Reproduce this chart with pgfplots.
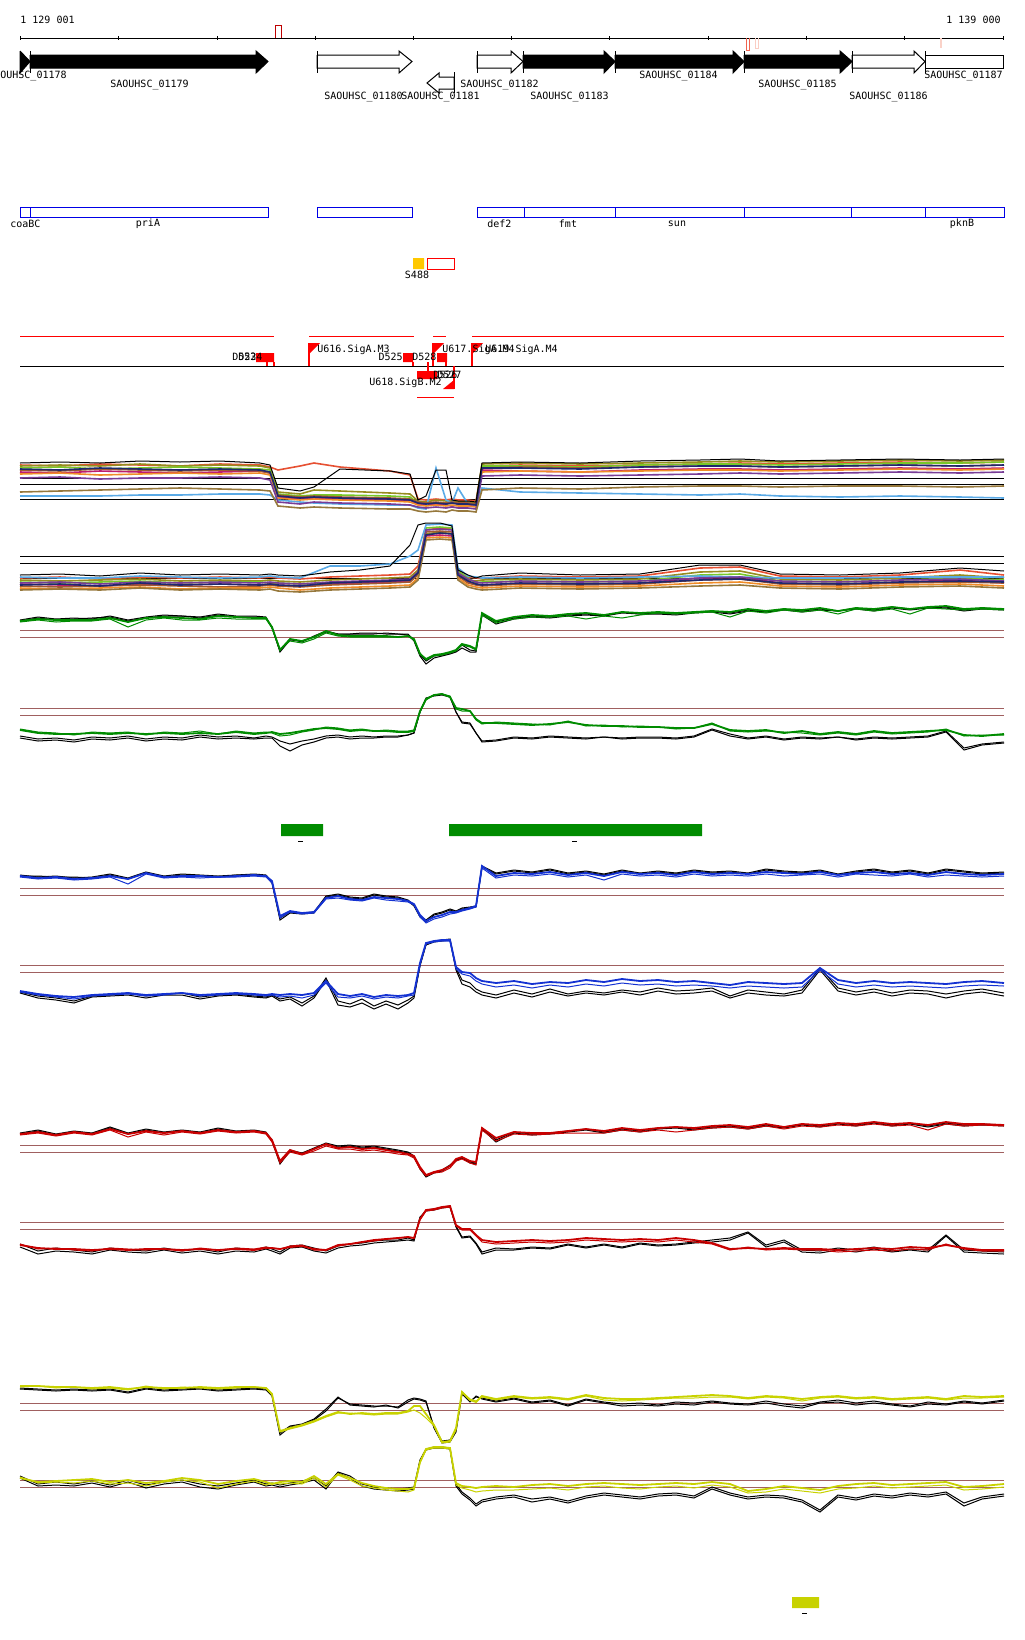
\documentclass[border=0pt]{standalone}
\usepackage{pgfplots}
\pgfplotsset{compat=1.18}
\usepackage{pgfplotstable}
\usepackage{fontspec}
\setmonofont{DejaVu Sans Mono}

\definecolor{brn}{RGB}{160,96,96}
\definecolor{gr}{RGB}{0,140,0}
\definecolor{bl}{RGB}{20,50,210}
\definecolor{rd}{RGB}{200,0,0}
\definecolor{yl}{RGB}{200,210,0}
\definecolor{bx}{RGB}{0,0,230}
\definecolor{gold}{RGB}{255,200,0}
\definecolor{m1}{RGB}{230,80,50}
\definecolor{m2}{RGB}{150,140,30}
\definecolor{m3}{RGB}{120,200,40}
\definecolor{m4}{RGB}{190,30,110}
\definecolor{m5}{RGB}{90,170,230}
\definecolor{m6}{RGB}{160,90,50}
\definecolor{m7}{RGB}{240,140,40}
\definecolor{m8}{RGB}{120,60,150}
\definecolor{m9}{RGB}{150,120,60}
\definecolor{m10}{RGB}{30,40,110}
\tikzset{lab/.style={font=\fontsize{5}{5}\selectfont\ttfamily, inner sep=0pt}}

% multi-sample tracks (pixel coords, y down)
\pgfplotstableread{
x k c1 c2 c3 c4 c5 c6 c7 c8 c9 c10
20 463 465 466 468 472 496 470 474 478 492 469
60 462 466 465 467 473 496 471 473 477 491 470
100 463 464 466 469 471 496 469 475 479 490 468
140 461 465 464 468 472 495 470 474 478 489 469
180 462 466 466 467 473 495 471 473 478 488 470
220 461 464 465 468 472 494 470 474 477 489 469
260 463 465 466 469 471 494 471 473 478 490 470
270 465 467 468 470 473 495 473 475 480 491 472
278 488 470 492 494 497 500 495 498 502 506 496
300 491 466 494 496 499 502 497 500 504 508 498
314 487 463 490 495 498 503 496 499 502 507 497
340 469 467 491 495 499 504 497 500 503 508 498
390 471 471 493 496 500 505 498 501 504 509 499
410 474 475 494 497 500 505 499 502 505 509 500
418 500 499 501 503 504 508 502 505 507 511 503
426 496 500 502 504 505 509 503 506 508 512 504
436 470 499 500 503 504 468 502 505 507 511 503
446 470 500 501 504 505 500 503 506 508 512 504
452 500 499 501 503 506 503 502 505 507 510 503
458 501 500 502 504 505 488 503 506 508 511 504
468 501 500 502 504 505 504 503 506 508 511 504
476 502 501 503 505 506 505 504 507 509 512 505
482 463 466 464 466 470 488 468 472 476 490 468
520 462 465 463 466 471 492 467 471 475 488 468
580 463 466 464 467 472 493 468 472 476 489 469
640 461 465 463 465 470 494 467 471 475 487 467
700 460 464 462 464 469 495 466 470 474 486 466
740 459 463 461 464 469 494 466 470 473 486 466
780 461 464 462 465 470 496 467 471 474 487 467
840 460 463 461 464 469 497 466 470 473 486 466
900 459 462 460 463 468 496 465 469 472 486 465
960 460 463 461 463 469 497 466 470 473 487 466
1004 459 462 460 462 468 498 465 469 472 486 465
}\mcA

\pgfplotstableread{
x k c1 c2 c3 c4 c5 c6 c7 c8 c9 c10
20 575 578 580 582 584 577 586 588 583 590 585
60 574 577 581 583 585 578 587 589 582 589 584
100 576 579 580 582 586 578 586 588 584 590 586
140 573 577 579 581 584 576 585 587 582 588 583
180 575 578 581 583 585 577 586 589 583 590 585
220 574 577 580 582 584 578 587 588 582 589 584
260 575 578 581 582 585 577 586 588 583 590 585
270 574 577 580 583 584 576 585 587 582 589 584
278 575 578 581 583 585 577 586 588 583 591 585
300 576 579 582 584 586 578 587 590 584 592 586
330 572 577 580 583 584 566 585 588 582 590 583
360 570 576 579 582 583 566 584 587 581 589 582
390 566 575 578 581 582 564 583 586 580 588 581
410 545 574 577 580 581 556 582 585 579 587 580
418 525 566 570 572 574 550 575 578 572 580 573
426 523 530 534 528 536 525 532 538 530 540 535
440 523 528 532 527 535 524 531 537 529 539 533
452 526 529 534 528 536 525 532 538 530 540 534
458 570 572 574 571 575 568 576 578 573 580 575
468 575 577 580 578 582 576 583 585 579 587 581
476 578 578 581 583 584 577 585 587 582 589 584
482 576 578 580 582 585 578 586 588 583 590 585
520 573 576 579 581 583 577 584 586 581 588 583
580 575 577 580 582 584 578 585 587 582 589 584
640 574 576 579 581 583 577 584 586 581 588 583
700 565 568 572 575 578 576 580 583 578 586 580
740 565 567 571 574 577 577 579 582 577 585 579
780 574 576 579 581 583 578 584 586 581 588 583
840 575 577 580 582 584 578 585 587 582 589 584
900 573 575 578 580 582 577 583 585 580 587 582
960 568 570 575 578 580 577 582 584 579 586 581
1004 571 575 578 580 583 577 583 586 581 588 582
}\mcB

\pgfplotstableread{
x k1 k2 c1 c2
20 620 621 621 622
38 617 618 619 620
56 619 620 620 622
74 618 619 620 621
92 619 618 620 621
110 616 617 618 619
128 620 621 622 627
146 617 618 618 620
164 615 616 617 618
182 616 616 618 620
200 617 618 619 620
218 614 615 616 618
236 616 617 617 619
254 616 617 618 619
266 617 618 618 619
272 628 627 627 628
280 651 652 650 649
290 639 640 639 641
302 642 641 641 643
314 636 637 637 639
326 631 632 631 633
338 634 634 635 636
350 634 634 636 637
362 634 633 636 637
374 634 633 636 637
386 633 634 636 637
398 634 634 637 637
408 634 635 636 636
414 640 641 639 640
420 655 656 654 653
426 661 664 659 660
434 656 658 655 656
442 655 656 654 655
450 653 654 652 653
456 651 652 650 651
462 645 648 644 645
470 650 652 646 647
476 651 652 649 650
482 614 615 613 615
496 622 624 621 623
514 618 619 617 619
532 616 617 615 617
550 617 618 616 617
568 615 616 614 616
586 614 615 613 619
604 616 616 615 616
622 612 613 612 618
640 614 614 613 615
658 613 614 612 613
676 614 615 613 614
694 612 613 612 613
712 611 612 611 612
730 613 614 612 617
748 610 611 609 611
766 612 612 611 613
784 609 610 609 610
802 611 612 610 612
820 609 610 608 610
838 611 611 611 614
856 608 609 608 609
874 610 611 609 611
892 607 608 607 609
910 609 610 609 614
928 608 608 607 608
946 607 608 606 609
964 610 611 609 610
982 608 609 608 609
1004 609 610 609 610
}\gA

\pgfplotstableread{
x k1 k2 c1 c2
20 736 738 730 729
38 739 741 733 732
56 738 740 734 733
74 740 742 734 735
92 737 739 733 732
110 738 740 734 733
128 736 738 733 732
146 739 741 734 735
164 737 739 733 732
182 738 740 734 733
200 735 737 733 731
218 737 739 734 734
236 736 738 732 731
254 738 739 734 733
266 736 738 733 732
272 737 738 732 733
280 741 746 734 736
290 744 751 733 735
302 741 745 731 732
314 739 742 729 730
326 736 738 728 727
338 735 737 729 728
350 737 739 731 730
362 736 738 730 729
374 737 738 731 731
386 736 737 731 730
398 736 737 732 731
408 735 735 732 731
414 733 733 731 730
420 712 712 711 712
426 699 698 699 700
434 695 696 695 695
442 694 695 694 694
450 697 697 697 696
456 712 712 708 709
462 722 723 709 711
470 723 724 711 711
476 733 733 719 720
482 741 742 723 724
496 740 741 723 722
514 737 738 724 723
532 738 739 725 724
550 736 737 724 725
568 737 738 722 721
586 738 739 725 726
604 737 737 726 725
622 738 739 726 727
640 737 738 727 726
658 737 738 727 727
676 738 739 728 729
694 736 737 728 728
712 729 730 724 723
730 734 736 730 731
748 738 739 731 732
766 736 737 730 731
784 739 740 733 732
802 737 738 731 733
820 738 739 734 735
838 737 737 732 733
856 739 740 734 735
874 737 738 731 732
892 738 739 733 734
910 737 738 732 733
928 736 737 731 732
946 731 732 730 729
964 748 750 735 736
982 744 745 736 735
1004 742 743 734 735
}\gB

\pgfplotstableread{
x k1 k2 c1 c2
20 875 876 876 877
38 877 876 878 879
56 876 877 877 878
74 878 877 879 880
92 877 878 878 879
110 874 875 876 877
128 878 879 879 884
146 872 873 873 874
164 876 877 877 878
182 874 875 876 877
200 875 876 876 878
218 876 877 877 877
236 875 875 876 877
254 874 875 875 876
266 875 876 876 877
272 882 883 881 883
280 918 920 916 918
290 912 913 911 912
302 913 914 913 914
314 912 913 912 913
326 896 897 898 899
338 894 895 896 898
350 897 898 899 900
362 898 899 900 901
374 894 895 897 898
386 896 897 898 900
398 897 898 899 901
408 900 901 901 902
414 905 906 904 905
420 916 917 915 917
426 920 922 921 923
434 914 915 917 919
442 912 913 915 917
450 909 910 912 914
456 911 912 912 913
462 908 909 910 911
470 907 908 908 909
476 906 907 906 907
482 866 867 866 868
496 873 874 876 878
514 870 871 873 875
532 872 873 874 876
550 869 870 872 874
568 873 874 875 877
586 871 872 873 875
604 874 875 876 880
622 870 871 872 874
640 873 874 874 876
658 871 872 873 875
676 873 874 875 877
694 870 871 872 874
712 872 873 874 876
730 871 872 873 875
748 873 874 874 876
766 869 870 872 874
784 871 872 873 876
802 872 873 874 875
820 870 871 872 874
838 874 875 875 877
856 871 872 873 874
874 869 870 872 875
892 872 873 874 876
910 870 871 873 874
928 873 874 875 877
946 869 870 872 875
964 871 872 874 876
982 873 874 875 877
1004 872 873 874 876
}\bA

\pgfplotstableread{
x k1 k2 c1 c2
20 992 993 991 992
38 996 998 994 995
56 998 1000 996 997
74 1001 1003 997 999
92 996 997 995 996
110 995 996 994 995
128 993 995 993 994
146 996 998 995 996
164 994 995 994 995
182 993 995 993 993
200 997 999 995 996
218 995 996 994 995
236 994 995 993 994
254 996 997 994 995
266 997 998 995 996
272 995 996 994 995
280 999 1001 995 997
290 997 999 994 996
302 1003 1006 995 998
314 996 998 993 995
326 978 980 981 983
338 1001 1005 994 997
350 1004 1007 996 998
362 999 1003 994 996
374 1006 1009 997 999
386 1001 1004 995 997
398 1005 1009 996 998
408 1000 1003 995 996
414 996 998 993 995
420 965 966 963 965
426 944 945 943 944
434 941 942 941 942
442 940 941 940 941
450 939 940 940 941
456 968 970 967 969
462 980 984 972 974
470 983 987 973 976
476 989 992 978 981
482 992 995 981 984
496 995 998 983 987
514 990 993 981 985
532 994 997 984 988
550 989 992 982 985
568 994 996 983 987
586 991 993 980 984
604 993 995 982 986
622 990 992 979 983
640 992 995 981 985
658 988 991 980 984
676 991 994 982 986
694 990 993 981 985
712 988 991 983 986
730 996 998 985 988
748 990 993 982 986
766 992 995 983 987
784 994 996 984 988
802 990 993 983 987
820 968 970 968 970
838 988 991 980 984
856 992 995 983 987
874 989 992 981 985
892 993 996 983 987
910 990 993 982 986
928 991 994 983 987
946 994 998 984 988
964 991 994 982 986
982 989 992 981 985
1004 993 996 983 986
}\bB

\pgfplotstableread{
x k1 k2 c1 c2
20 1133 1134 1134 1135
38 1130 1131 1132 1133
56 1134 1135 1135 1136
74 1131 1132 1132 1133
92 1133 1134 1134 1135
110 1127 1128 1129 1130
128 1133 1134 1134 1137
146 1129 1130 1131 1132
164 1132 1133 1133 1135
182 1130 1131 1131 1132
200 1132 1133 1133 1134
218 1128 1129 1130 1131
236 1131 1132 1132 1133
254 1130 1131 1131 1132
266 1132 1133 1133 1134
272 1140 1141 1140 1142
280 1162 1164 1161 1163
290 1150 1151 1150 1152
302 1153 1154 1154 1155
314 1148 1149 1149 1151
326 1143 1144 1144 1146
338 1146 1147 1148 1149
350 1145 1146 1147 1149
362 1147 1148 1149 1151
374 1146 1147 1148 1150
386 1148 1149 1150 1152
398 1150 1151 1152 1154
408 1152 1153 1154 1155
414 1156 1157 1156 1158
420 1168 1169 1167 1169
426 1176 1177 1175 1176
434 1172 1173 1172 1173
442 1170 1171 1170 1172
450 1165 1166 1166 1168
456 1160 1161 1159 1161
462 1157 1158 1157 1159
470 1162 1163 1161 1163
476 1163 1164 1162 1165
482 1128 1129 1128 1130
496 1140 1142 1138 1141
514 1132 1133 1132 1134
532 1134 1135 1133 1135
550 1133 1134 1133 1134
568 1131 1132 1131 1133
586 1129 1130 1129 1133
604 1132 1133 1131 1133
622 1129 1130 1128 1130
640 1131 1132 1130 1132
658 1128 1129 1128 1130
676 1127 1128 1127 1132
694 1129 1130 1128 1130
712 1127 1128 1126 1128
730 1126 1127 1125 1127
748 1128 1129 1127 1129
766 1125 1126 1124 1126
784 1127 1128 1127 1129
802 1124 1125 1124 1126
820 1126 1127 1125 1127
838 1123 1124 1123 1125
856 1125 1126 1124 1126
874 1122 1123 1122 1124
892 1125 1126 1124 1126
910 1123 1124 1123 1125
928 1126 1127 1125 1130
946 1123 1124 1122 1124
964 1125 1126 1124 1126
982 1124 1125 1124 1125
1004 1125 1126 1125 1126
}\rA

\pgfplotstableread{
x k1 k2 c1 c2
20 1244 1247 1245 1244
38 1251 1254 1248 1249
56 1248 1251 1249 1248
74 1250 1252 1249 1250
92 1252 1254 1250 1251
110 1248 1250 1249 1248
128 1250 1252 1250 1249
146 1251 1253 1249 1250
164 1248 1250 1249 1249
182 1251 1253 1250 1251
200 1249 1251 1249 1248
218 1252 1254 1250 1250
236 1248 1251 1249 1248
254 1250 1252 1250 1249
266 1247 1249 1248 1247
272 1249 1251 1248 1248
280 1252 1254 1249 1249
290 1246 1248 1247 1246
302 1245 1247 1246 1245
314 1248 1251 1249 1250
326 1251 1253 1250 1250
338 1246 1248 1245 1246
350 1244 1246 1244 1244
362 1243 1245 1242 1242
374 1241 1243 1240 1241
386 1240 1242 1239 1239
398 1240 1241 1238 1238
408 1238 1240 1237 1237
414 1240 1241 1238 1238
420 1218 1217 1219 1220
426 1210 1211 1210 1211
434 1209 1210 1209 1210
442 1207 1208 1207 1208
450 1206 1207 1206 1207
456 1226 1227 1225 1226
462 1237 1238 1229 1230
470 1236 1237 1229 1230
476 1243 1244 1235 1236
482 1252 1254 1240 1242
496 1248 1250 1242 1244
514 1249 1250 1241 1243
532 1247 1248 1240 1242
550 1248 1249 1241 1243
568 1244 1245 1240 1242
586 1247 1248 1238 1240
604 1244 1245 1239 1241
622 1247 1248 1240 1242
640 1243 1244 1239 1241
658 1245 1246 1240 1242
676 1244 1245 1238 1240
694 1242 1243 1240 1242
712 1240 1242 1243 1244
730 1238 1240 1249 1250
748 1232 1233 1248 1247
766 1245 1247 1249 1250
784 1240 1242 1248 1249
802 1250 1252 1249 1250
820 1251 1253 1249 1250
838 1248 1250 1250 1252
856 1250 1252 1249 1251
874 1247 1249 1248 1250
892 1251 1252 1249 1251
910 1249 1250 1247 1249
928 1250 1252 1248 1250
946 1235 1236 1245 1244
964 1250 1252 1248 1249
982 1251 1253 1250 1251
1004 1252 1254 1250 1251
}\rB

\pgfplotstableread{
x k1 k2 c1 c2
20 1388 1389 1386 1387
38 1389 1390 1386 1386
56 1390 1391 1387 1388
74 1389 1390 1387 1387
92 1390 1391 1388 1389
110 1389 1390 1387 1388
128 1392 1393 1389 1390
146 1388 1389 1387 1386
164 1390 1391 1388 1389
182 1389 1390 1388 1387
200 1388 1389 1387 1388
218 1390 1391 1388 1389
236 1389 1390 1387 1388
254 1388 1389 1387 1387
266 1389 1390 1388 1388
272 1395 1396 1394 1395
280 1433 1435 1431 1432
290 1426 1427 1428 1429
302 1424 1425 1425 1426
314 1419 1420 1421 1422
326 1409 1411 1416 1417
338 1397 1398 1412 1413
350 1405 1404 1414 1413
362 1406 1405 1413 1414
374 1407 1406 1414 1415
386 1405 1406 1413 1414
398 1408 1407 1413 1414
408 1402 1400 1411 1412
414 1399 1398 1406 1410
420 1400 1399 1406 1413
426 1402 1401 1414 1418
434 1427 1428 1425 1426
442 1441 1443 1442 1443
450 1440 1442 1441 1442
456 1430 1432 1428 1430
462 1393 1394 1392 1392
470 1401 1402 1400 1399
476 1397 1396 1402 1401
482 1398 1399 1396 1397
496 1401 1402 1399 1400
514 1398 1399 1396 1397
532 1402 1403 1398 1399
550 1400 1401 1397 1398
568 1405 1406 1399 1400
586 1399 1400 1395 1396
604 1402 1403 1398 1400
622 1404 1406 1399 1401
640 1403 1405 1399 1400
658 1405 1406 1398 1399
676 1402 1404 1397 1398
694 1403 1405 1396 1398
712 1401 1402 1395 1397
730 1403 1404 1396 1397
748 1404 1405 1398 1399
766 1401 1403 1396 1397
784 1404 1406 1397 1398
802 1406 1408 1399 1401
820 1402 1403 1397 1398
838 1400 1402 1396 1397
856 1403 1405 1398 1399
874 1401 1403 1397 1398
892 1404 1405 1399 1400
910 1406 1407 1398 1399
928 1402 1404 1397 1398
946 1404 1405 1399 1400
964 1401 1402 1396 1398
982 1403 1404 1397 1398
1004 1400 1401 1396 1397
}\yA

\pgfplotstableread{
x k1 k2 c1 c2
20 1476 1478 1478 1477
38 1484 1486 1482 1483
56 1482 1485 1481 1482
74 1484 1486 1480 1483
92 1481 1483 1479 1481
110 1485 1487 1482 1484
128 1480 1482 1480 1483
146 1485 1488 1483 1486
164 1482 1484 1481 1482
182 1480 1482 1478 1480
200 1484 1487 1480 1482
218 1486 1489 1484 1488
236 1483 1485 1481 1484
254 1480 1482 1479 1481
266 1484 1486 1482 1485
272 1483 1485 1484 1483
280 1485 1487 1482 1484
290 1483 1485 1481 1483
302 1481 1483 1482 1484
314 1478 1480 1476 1478
326 1486 1489 1484 1487
338 1472 1473 1474 1475
350 1476 1478 1478 1480
362 1484 1486 1483 1486
374 1487 1489 1486 1488
386 1488 1490 1488 1490
398 1489 1491 1489 1491
408 1488 1490 1489 1492
414 1487 1489 1488 1490
420 1460 1461 1462 1463
426 1449 1450 1449 1450
434 1447 1448 1447 1448
442 1447 1448 1447 1448
450 1448 1449 1448 1449
456 1484 1486 1483 1485
462 1492 1494 1486 1488
470 1498 1500 1487 1490
476 1504 1506 1488 1492
482 1500 1502 1487 1491
496 1497 1499 1486 1490
514 1495 1497 1487 1490
532 1499 1502 1485 1489
550 1497 1499 1484 1488
568 1501 1503 1486 1490
586 1496 1498 1484 1487
604 1493 1495 1483 1486
622 1495 1497 1484 1488
640 1497 1499 1485 1489
658 1494 1496 1484 1487
676 1493 1495 1483 1486
694 1496 1498 1484 1488
712 1487 1489 1482 1485
730 1493 1495 1484 1487
748 1497 1499 1491 1493
766 1495 1497 1489 1492
784 1496 1498 1486 1489
802 1500 1502 1488 1491
820 1510 1512 1490 1493
838 1495 1497 1486 1489
856 1498 1500 1484 1488
874 1494 1496 1483 1486
892 1496 1498 1485 1488
910 1493 1495 1484 1487
928 1495 1497 1483 1486
946 1492 1494 1482 1485
964 1503 1506 1487 1490
982 1497 1499 1486 1489
1004 1494 1496 1484 1487
}\yB

\begin{document}
\begin{tikzpicture}
\begin{axis}[
  scale only axis, width=512pt, height=820pt,
  xmin=0, xmax=1024, ymin=0, ymax=1640, y dir=reverse,
  hide axis, clip=false, unbounded coords=jump,
  every axis plot/.append style={line width=0.5pt, mark=none, line join=miter},
  mc/.style={line width=0.8pt},
]
% frame of the page
\addplot[draw=none] coordinates {(0,0) (1024,1640)};

% ---------- ruler ----------
\addplot[black] coordinates {(20.7,38) (1003,38)};
\addplot[black] coordinates {(20.7,36)(20.7,40)(nan,nan)(118.9,36)(118.9,40)(nan,nan)
  (217.1,36)(217.1,40)(nan,nan)(315.3,36)(315.3,40)(nan,nan)(413.5,36)(413.5,40)(nan,nan)
  (511.7,36)(511.7,40)(nan,nan)(609.9,36)(609.9,40)(nan,nan)(708.1,36)(708.1,40)(nan,nan)
  (806.3,36)(806.3,40)(nan,nan)(904.5,36)(904.5,40)(nan,nan)(1003,36)(1003,40)};
\addplot[draw={rgb,255:red,190;green,0;blue,0}] coordinates {(275,38)(275,25)(281,25)(281,38)};
\addplot[draw={rgb,255:red,240;green,100;blue,80}] coordinates {(746,38)(746,50)(749,50)(749,38)};
\addplot[draw={rgb,255:red,250;green,205;blue,195}] coordinates {(755,38)(755,48)(758,48)(758,38)};
\addplot[fill={rgb,255:red,250;green,210;blue,200}, draw=none] coordinates {(940,38)(942,38)(942,48)(940,48)};
\node[lab, anchor=west] at (axis cs:20,20) {1 129 001};
\node[lab, anchor=east] at (axis cs:1001,20) {1 139 000};

% ---------- genes ----------
\addplot[fill=black, draw=black] coordinates {(20,51)(30,61.5)(20,73)(20,51)};
\addplot[fill=black, draw=black] coordinates {(30,55)(256,55)(256,51)(268,61.5)(256,73)(256,68)(30,68)(30,55)};
\addplot[fill=black, draw=black] coordinates {(523,55)(604,55)(604,51)(615,61.5)(604,73)(604,68)(523,68)(523,55)};
\addplot[fill=black, draw=black] coordinates {(615,55)(733,55)(733,51)(744,61.5)(733,73)(733,68)(615,68)(615,55)};
\addplot[fill=black, draw=black] coordinates {(744,55)(840,55)(840,51)(852,61.5)(840,73)(840,68)(744,68)(744,55)};
\addplot[fill=white, draw=black] coordinates {(317,55)(399,55)(399,51)(412,61.5)(399,73)(399,68)(317,68)(317,55)};
\addplot[fill=white, draw=black] coordinates {(477,55)(511,55)(511,51)(523,61.5)(511,73)(511,68)(477,68)(477,55)};
\addplot[fill=white, draw=black] coordinates {(852,55)(914,55)(914,51)(925,61.5)(914,73)(914,68)(852,68)(852,55)};
\addplot[fill=white, draw=black] coordinates {(925,55)(1003,55)(1003,68)(925,68)(925,55)};
\addplot[fill=white, draw=black] coordinates {(454,77)(439,77)(439,73)(427,83)(439,93)(439,89)(454,89)(454,77)};
\addplot[black] coordinates {(30,51)(30,73)(nan,nan)(317,51)(317,73)(nan,nan)(477,51)(477,73)(nan,nan)
  (523,51)(523,73)(nan,nan)(615,51)(615,73)(nan,nan)(744,51)(744,73)(nan,nan)(852,51)(852,73)(nan,nan)
  (925,51)(925,73)(nan,nan)(454,72)(454,93)};
\node[lab, anchor=west] at (axis cs:0,76) {OUHSC\_01178};
\node[lab, anchor=west] at (axis cs:110,85) {SAOUHSC\_01179};
\node[lab, anchor=west] at (axis cs:324,97) {SAOUHSC\_01180};
\node[lab, anchor=west] at (axis cs:401,97) {SAOUHSC\_01181};
\node[lab, anchor=west] at (axis cs:460,85) {SAOUHSC\_01182};
\node[lab, anchor=west] at (axis cs:530,97) {SAOUHSC\_01183};
\node[lab, anchor=west] at (axis cs:639,76) {SAOUHSC\_01184};
\node[lab, anchor=west] at (axis cs:758,85) {SAOUHSC\_01185};
\node[lab, anchor=west] at (axis cs:849,97) {SAOUHSC\_01186};
\node[lab, anchor=west] at (axis cs:924,76) {SAOUHSC\_01187};

% ---------- operon boxes ----------
\addplot[draw=bx] coordinates {(20,207)(268,207)(268,217)(20,217)(20,207)};
\addplot[draw=bx] coordinates {(317,207)(412,207)(412,217)(317,217)(317,207)};
\addplot[draw=bx] coordinates {(477,207)(1004,207)(1004,217)(477,217)(477,207)};
\addplot[draw=bx] coordinates {(30,207)(30,217)(nan,nan)(524,207)(524,217)(nan,nan)(615,207)(615,217)(nan,nan)
  (744,207)(744,217)(nan,nan)(851,207)(851,217)(nan,nan)(925,207)(925,217)};
\node[lab, anchor=west] at (axis cs:10,224) {coaBC};
\node[lab] at (axis cs:148,224) {priA};
\node[lab, anchor=west] at (axis cs:487,224) {def2};
\node[lab] at (axis cs:568,224) {fmt};
\node[lab] at (axis cs:677,224) {sun};
\node[lab] at (axis cs:962,224) {pknB};

% ---------- S488 ----------
\addplot[fill=gold, draw=none] coordinates {(413,258)(424,258)(424,269)(413,269)(413,258)};
\addplot[draw=red] coordinates {(427,258)(454,258)(454,269)(427,269)(427,258)};
\node[lab] at (axis cs:417,275) {S488};

% ---------- promoters / terminators ----------
\addplot[red] coordinates {(20,336)(274,336)(nan,nan)(309,336)(414,336)(nan,nan)(433,336)(446,336)(nan,nan)(472,336)(1004,336)};
\addplot[black] coordinates {(20,366)(1004,366)};
\addplot[red, line width=0.7pt] coordinates {(309,343)(309,366)(nan,nan)(433,343)(433,366)(nan,nan)(472,343)(472,366)(nan,nan)(454,366)(454,389)
  (nan,nan)(267,362)(267,366)(nan,nan)(274,362)(274,366)(nan,nan)(413,362)(413,366)(nan,nan)(446,362)(446,366)(nan,nan)(428,362)(428,371)};
\addplot[fill=red, draw=none] coordinates {(309,343)(320,343)(309,354)(309,343)};
\addplot[fill=red, draw=none] coordinates {(433,343)(444,343)(433,354)(433,343)};
\addplot[fill=red, draw=none] coordinates {(472,343)(483,343)(472,354)(472,343)};
\addplot[fill=red, draw=none] coordinates {(454,380)(454,389)(443,389)(454,380)};
\addplot[fill=red, draw=none] coordinates {(256,353)(274,353)(274,362)(256,362)(256,353)};
\addplot[fill=red, draw=none] coordinates {(403,353)(413,353)(413,362)(403,362)(403,353)};
\addplot[fill=red, draw=none] coordinates {(437,353)(447,353)(447,362)(437,362)(437,353)};
\addplot[fill=red, draw=none] coordinates {(417,371)(437,371)(437,379)(417,379)(417,371)};
\addplot[red] coordinates {(417,397)(454,397)};
\node[lab, anchor=west] at (axis cs:317,350) {U616.SigA.M3};
\node[lab, anchor=west] at (axis cs:442,350) {U617.SigA.M4};
\node[lab, anchor=west] at (axis cs:485,350) {U619.SigA.M4};
\node[lab, anchor=west] at (axis cs:232,357) {D523};
\node[lab, anchor=west] at (axis cs:238,357) {D524};
\node[lab, anchor=east] at (axis cs:403,357) {D525};
\node[lab, anchor=west] at (axis cs:412,357) {D528};
\node[lab, anchor=west] at (axis cs:433,375) {D526};
\node[lab, anchor=west] at (axis cs:437,375) {D527};
\node[lab, anchor=east] at (axis cs:442,383) {U618.SigB.M2};

% ---------- multi-sample tracks ----------
\addplot[black] coordinates {(20,478)(1004,478)(nan,nan)(20,484)(1004,484)(nan,nan)(20,499)(1004,499)};
\addplot[m1, mc] table[x=x,y=c1] {\mcA};
\addplot[m2, mc] table[x=x,y=c2] {\mcA};
\addplot[m3, mc] table[x=x,y=c3] {\mcA};
\addplot[m4, mc] table[x=x,y=c4] {\mcA};
\addplot[m5, mc] table[x=x,y=c5] {\mcA};
\addplot[m6, mc] table[x=x,y=c6] {\mcA};
\addplot[m7, mc] table[x=x,y=c7] {\mcA};
\addplot[m8, mc] table[x=x,y=c8] {\mcA};
\addplot[m9, mc] table[x=x,y=c9] {\mcA};
\addplot[m10, mc] table[x=x,y=c10] {\mcA};
\addplot[black] table[x=x,y=k] {\mcA};

\addplot[black] coordinates {(20,556)(1004,556)(nan,nan)(20,563)(1004,563)(nan,nan)(20,578)(1004,578)};
\addplot[m1, mc] table[x=x,y=c1] {\mcB};
\addplot[m2, mc] table[x=x,y=c2] {\mcB};
\addplot[m3, mc] table[x=x,y=c3] {\mcB};
\addplot[m4, mc] table[x=x,y=c4] {\mcB};
\addplot[m5, mc] table[x=x,y=c5] {\mcB};
\addplot[m6, mc] table[x=x,y=c6] {\mcB};
\addplot[m7, mc] table[x=x,y=c7] {\mcB};
\addplot[m8, mc] table[x=x,y=c8] {\mcB};
\addplot[m9, mc] table[x=x,y=c9] {\mcB};
\addplot[m10, mc] table[x=x,y=c10] {\mcB};
\addplot[black] table[x=x,y=k] {\mcB};

% ---------- green ----------
\addplot[brn] coordinates {(20,630)(1004,630)(nan,nan)(20,637)(1004,637)};
\addplot[black] table[x=x,y=k1] {\gA};
\addplot[black] table[x=x,y=k2] {\gA};
\addplot[gr] table[x=x,y=c2] {\gA};
\addplot[gr, line width=0.9pt] table[x=x,y=c1] {\gA};
\addplot[brn] coordinates {(20,708)(1004,708)(nan,nan)(20,715)(1004,715)};
\addplot[black] table[x=x,y=k1] {\gB};
\addplot[black] table[x=x,y=k2] {\gB};
\addplot[gr] table[x=x,y=c2] {\gB};
\addplot[gr, line width=0.9pt] table[x=x,y=c1] {\gB};
\addplot[fill=gr, draw=none] coordinates {(281,824)(323,824)(323,836)(281,836)(281,824)};
\addplot[fill=gr, draw=none] coordinates {(449,824)(702,824)(702,836)(449,836)(449,824)};
\addplot[black] coordinates {(298,841)(303,841)(nan,nan)(572,841)(577,841)};

% ---------- blue ----------
\addplot[brn] coordinates {(20,888)(1004,888)(nan,nan)(20,895)(1004,895)};
\addplot[black] table[x=x,y=k1] {\bA};
\addplot[black] table[x=x,y=k2] {\bA};
\addplot[bl] table[x=x,y=c2] {\bA};
\addplot[bl, line width=0.9pt] table[x=x,y=c1] {\bA};
\addplot[brn] coordinates {(20,965)(1004,965)(nan,nan)(20,972)(1004,972)};
\addplot[black] table[x=x,y=k1] {\bB};
\addplot[black] table[x=x,y=k2] {\bB};
\addplot[bl] table[x=x,y=c2] {\bB};
\addplot[bl, line width=0.9pt] table[x=x,y=c1] {\bB};

% ---------- red ----------
\addplot[brn] coordinates {(20,1145)(1004,1145)(nan,nan)(20,1152)(1004,1152)};
\addplot[black] table[x=x,y=k1] {\rA};
\addplot[black] table[x=x,y=k2] {\rA};
\addplot[rd] table[x=x,y=c2] {\rA};
\addplot[rd, line width=0.9pt] table[x=x,y=c1] {\rA};
\addplot[brn] coordinates {(20,1222)(1004,1222)(nan,nan)(20,1229)(1004,1229)};
\addplot[black] table[x=x,y=k1] {\rB};
\addplot[black] table[x=x,y=k2] {\rB};
\addplot[rd] table[x=x,y=c2] {\rB};
\addplot[rd, line width=0.9pt] table[x=x,y=c1] {\rB};

% ---------- yellow ----------
\addplot[brn] coordinates {(20,1403)(1004,1403)(nan,nan)(20,1410)(1004,1410)};
\addplot[black] table[x=x,y=k1] {\yA};
\addplot[black] table[x=x,y=k2] {\yA};
\addplot[yl] table[x=x,y=c2] {\yA};
\addplot[yl, line width=0.9pt] table[x=x,y=c1] {\yA};
\addplot[brn] coordinates {(20,1480)(1004,1480)(nan,nan)(20,1487)(1004,1487)};
\addplot[black] table[x=x,y=k1] {\yB};
\addplot[black] table[x=x,y=k2] {\yB};
\addplot[yl] table[x=x,y=c2] {\yB};
\addplot[yl, line width=0.9pt] table[x=x,y=c1] {\yB};
\addplot[fill=yl, draw=none] coordinates {(792,1597)(819,1597)(819,1608)(792,1608)(792,1597)};
\addplot[black] coordinates {(802,1613)(807,1613)};
\end{axis}
\end{tikzpicture}
\end{document}
